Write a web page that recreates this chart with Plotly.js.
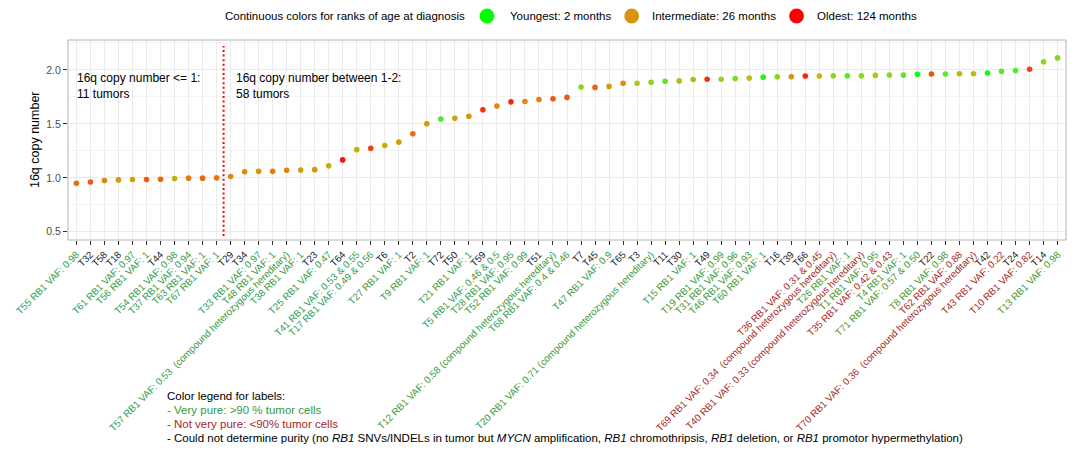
<!DOCTYPE html>
<html><head><meta charset="utf-8">
<script src="https://cdn.plot.ly/plotly-3.0.1.min.js"></script>
<style>html,body{margin:0;padding:0;background:#fff}#chart{width:1080px;height:452px}</style>
</head><body><div id="chart"></div>
<script>
// ---- data ----
const tumors = ['T55','T32','T58','T18','T61','T56','T44','T54','T37','T63','T67',
 'T29','T34','T33','T48','T57','T38','T23','T25','T64','T41','T17','T6','T27','T2','T9','T72','T50','T21','T59',
 'T5','T28','T52','T51','T12','T68','T7','T45','T47','T65','T3','T20','T11','T30','T15','T49','T19','T31','T46','T60',
 'T16','T39','T66','T36','T69','T26','T40','T1','T35','T4','T71','T22','T8','T62','T70','T42','T43','T24','T10','T14','T13'];
const labels = ['T55 RB1 VAF: 0.98','T32','T58','T18','T61 RB1 VAF: 0.97','T56 RB1 VAF: 1','T44','T54 RB1 VAF: 0.98','T37 RB1 VAF: 0.94','T63 RB1 VAF: 1','T67 RB1 VAF: 1',
 'T29','T34','T33 RB1 VAF: 0.97','T48 RB1 VAF: 1','T57 RB1 VAF: 0.53\u00a0 (compound heterozygous hereditary)','T38 RB1 VAF: 1','T23','T25 RB1 VAF: 0.47','T64',
 'T41 RB1 VAF: 0.53 &amp; 0.55','T17 RB1 VAF: 0.49 &amp; 0.56','T6','T27 RB1 VAF: 1','T2','T9 RB1 VAF: 1','T72','T50','T21 RB1 VAF: 1','T59',
 'T5 RB1 VAF: 0.46 &amp; 0.5','T28 RB1 VAF: 0.95','T52 RB1 VAF: 0.99','T51','T12 RB1 VAF: 0.58 (compound heterozygous hereditary)','T68 RB1 VAF: 0.4 &amp; 0.46',
 'T7','T45','T47 RB1 VAF: 0.9','T65','T3','T20 RB1 VAF: 0.71 (compound heterozygous hereditary)','T11','T30','T15 RB1 VAF: 1','T49',
 'T19 RB1 VAF: 0.99','T31 RB1 VAF: 0.96','T46 RB1 VAF: 0.93','T60 RB1 VAF: 1','T16','T39','T66','T36 RB1 VAF: 0.31 &amp; 0.45',
 'T69 RB1 VAF: 0.34\u00a0 (compound heterozygous hereditary)','T26 RB1 VAF: 1','T40 RB1 VAF: 0.33 (compound heterozygous hereditary)','T1 RB1 VAF: 0.95',
 'T35 RB1 VAF: 0.42 &amp; 0.43','T4 RB1 VAF: 1','T71 RB1 VAF: 0.57 &amp; 0.50','T22','T8 RB1 VAF: 0.98','T62 RB1 VAF: 0.88',
 'T70 RB1 VAF: 0.36\u00a0 (compound heterozygous hereditary)','T42','T43 RB1 VAF: 0.22','T24','T10 RB1 VAF: 0.82','T14','T13 RB1 VAF: 0.98'];
// purity: P = very pure (>90%), N = not very pure, U = undetermined
const purity = ['P','U','U','U','P','P','U','P','P','P','P',
 'U','U','P','P','P','P','U','P','U','P','P','U','P','U','P','U','U','P','U',
 'P','P','P','U','P','P','U','U','P','U','U','P','U','U','P','U','P','P','P','P',
 'U','U','U','N','N','P','N','P','N','P','P','U','P','N','N','U','N','U','N','U','P'];
const copyNumber = [0.949,0.962,0.975,0.981,0.984,0.984,0.987,0.994,0.997,0.997,1.000,
 1.013,1.057,1.060,1.060,1.070,1.073,1.076,1.111,1.166,1.261,1.274,1.299,1.331,1.408,1.500,1.545,1.551,1.570,1.631,
 1.666,1.704,1.707,1.726,1.732,1.745,1.841,1.838,1.847,1.876,1.876,1.885,1.895,1.898,1.911,1.914,1.914,1.920,1.924,1.933,
 1.936,1.936,1.943,1.943,1.946,1.946,1.946,1.949,1.952,1.952,1.959,1.962,1.962,1.965,1.965,1.971,1.987,1.994,2.006,2.076,2.111];
// rank of age at diagnosis (0 = youngest, 1 = oldest)
const ageRank = [0.64,0.72,0.56,0.48,0.46,0.72,0.68,0.41,0.61,0.68,0.62,
 0.56,0.53,0.50,0.60,0.57,0.47,0.50,0.43,0.95,0.39,0.82,0.42,0.50,0.64,0.48,0.10,0.45,0.48,0.88,
 0.54,0.90,0.55,0.59,0.73,0.72,0.24,0.70,0.47,0.51,0.30,0.27,0.15,0.37,0.38,0.86,0.30,0.20,0.36,0.05,
 0.26,0.50,0.90,0.38,0.24,0.14,0.22,0.33,0.23,0.15,0.03,0.75,0.15,0.41,0.35,0.03,0.12,0.12,0.82,0.24,0.22];
const yTicks = [0.5, 1.0, 1.5, 2.0];
const yTickLabels = ['0.5','1.0','1.5','2.0'];
const legendItems = ['Youngest: 2 months','Intermediate: 26 months','Oldest: 124 months'];
const legendRanks = [0, 0.5, 1];

// ---- styles ----
const purityColor = {P:'#35993a', N:'#a2282a', U:'#1a1a1a'};
const ageScale = [[0,'#00ff00'],[0.1,'#40f02a'],[0.2,'#7ade20'],[0.3,'#a4cc18'],[0.4,'#c0b412'],[0.5,'#d8940c'],
 [0.6,'#e67a10'],[0.7,'#ec6014'],[0.8,'#f24412'],[0.9,'#f8260c'],[1,'#ff0000']];
function scaleColor(t){
  for(let i=0;i<ageScale.length;i++){
    if(t<=ageScale[i][0]) return ageScale[i][1];
  }
  return ageScale[ageScale.length-1][1];
}
const tickText = labels.map((l,i)=>'<span style="color:'+purityColor[purity[i]]+'">'+l+'</span>');

const trace = {
  type:'scatter', mode:'markers', x:tumors, y:copyNumber,
  marker:{size:5.6, color:ageRank, colorscale:ageScale, cmin:0, cmax:1, showscale:false, line:{width:0}},
  hoverinfo:'x+y'
};

const F = 'Liberation Sans, Arial, Helvetica, sans-serif';
const legendX = [0.4198, 0.5648, 0.7300];
const legendTextX = [0.4409, 0.5832, 0.7485];
const shapes = [
  {type:'rect', xref:'paper', yref:'paper', x0:0, x1:1, y0:0, y1:1, line:{color:'#b3b3b3', width:1}, layer:'above'},
  {type:'line', xref:'x', yref:'paper', x0:10.5, x1:10.5, y0:0.02, y1:0.97, line:{color:'#ff0000', width:2, dash:'2px,2.6px'}}
];
legendRanks.forEach((r,i)=>{
  shapes.push({type:'circle', xref:'paper', yref:'paper', xsizemode:'pixel', ysizemode:'pixel',
    xanchor:legendX[i], yanchor:1.12, x0:-7.4, x1:7.4, y0:-7.4, y1:7.4,
    fillcolor: scaleColor(r), line:{width:0}});
});
const annotations = [
  {xref:'paper', yref:'paper', x:0.3998, y:1.12, xanchor:'right', yanchor:'middle', showarrow:false,
   text:'Continuous colors for ranks of age at diagnosis', font:{size:11.5, color:'#000'}},
  {xref:'paper', yref:'paper', x:0.007, y:0.77, xanchor:'left', yanchor:'middle', align:'left', showarrow:false,
   text:'16q copy number &lt;= 1:<br>11 tumors', font:{size:12, color:'#000'}},
  {xref:'paper', yref:'paper', x:0.1663, y:0.77, xanchor:'left', yanchor:'middle', align:'left', showarrow:false,
   text:'16q copy number between 1-2:<br>58 tumors', font:{size:12, color:'#000'}},
  {xref:'paper', yref:'paper', x:-0.033, y:0.5, xanchor:'center', yanchor:'middle', textangle:-90, showarrow:false,
   text:'16q copy number', font:{size:12.5, color:'#000'}},
  {xref:'paper', yref:'paper', x:0.0972, y:-0.78, xanchor:'left', yanchor:'middle', showarrow:false,
   text:'Color legend for labels:', font:{size:11.5, color:'#000'}},
  {xref:'paper', yref:'paper', x:0.0972, y:-0.85, xanchor:'left', yanchor:'middle', showarrow:false,
   text:'- Very pure: &gt;90 % tumor cells', font:{size:11.5, color:purityColor.P}},
  {xref:'paper', yref:'paper', x:0.0972, y:-0.92, xanchor:'left', yanchor:'middle', showarrow:false,
   text:'- Not very pure: &lt;90% tumor cells', font:{size:11.5, color:purityColor.N}},
  {xref:'paper', yref:'paper', x:0.0972, y:-0.99, xanchor:'left', yanchor:'middle', showarrow:false,
   text:'- Could not determine purity (no <i>RB1</i> SNVs/INDELs in tumor but <i>MYCN</i> amplification, <i>RB1</i> chromothripsis, <i>RB1</i> deletion, or <i>RB1</i> promotor hypermethylation)',
   font:{size:11.5, color:'#000'}}
];
legendItems.forEach((t,i)=>{
  annotations.push({xref:'paper', yref:'paper', x:legendTextX[i], y:1.12, xanchor:'left', yanchor:'middle',
    showarrow:false, text:t, font:{size:11.5, color:'#000'}});
});

const layout = {
  width:1080, height:452,
  margin:{l:68, r:14, t:40, b:212},
  paper_bgcolor:'#ffffff', plot_bgcolor:'#ffffff',
  font:{family:F, size:11, color:'#000'},
  showlegend:false,
  xaxis:{type:'category', range:[-0.6, 70.6], tickmode:'array', tickvals:tumors, ticktext:tickText,
    tickangle:-45, tickfont:{family:F, size:9.8}, ticks:'outside', ticklen:4, tickwidth:1, tickcolor:'#333333',
    showgrid:true, gridcolor:'#ebebeb', gridwidth:1, zeroline:false, showline:false, automargin:false, fixedrange:true},
  yaxis:{range:[0.424, 2.277], tickmode:'array', tickvals:yTicks, ticktext:yTickLabels,
    ticks:'outside', ticklen:4, tickwidth:1, tickcolor:'#333333', tickfont:{family:F, size:10.5, color:'#4d4d4d'},
    showgrid:true, gridcolor:'#ebebeb', gridwidth:1,
    minor:{tickvals:[0.75,1.25,1.75,2.25], showgrid:true, gridcolor:'#f4f4f4', gridwidth:1, ticks:''},
    zeroline:false, showline:false, automargin:false, fixedrange:true},
  shapes:shapes, annotations:annotations
};
Plotly.newPlot('chart', [trace], layout, {displayModeBar:false, staticPlot:true});
</script>
</body></html>
